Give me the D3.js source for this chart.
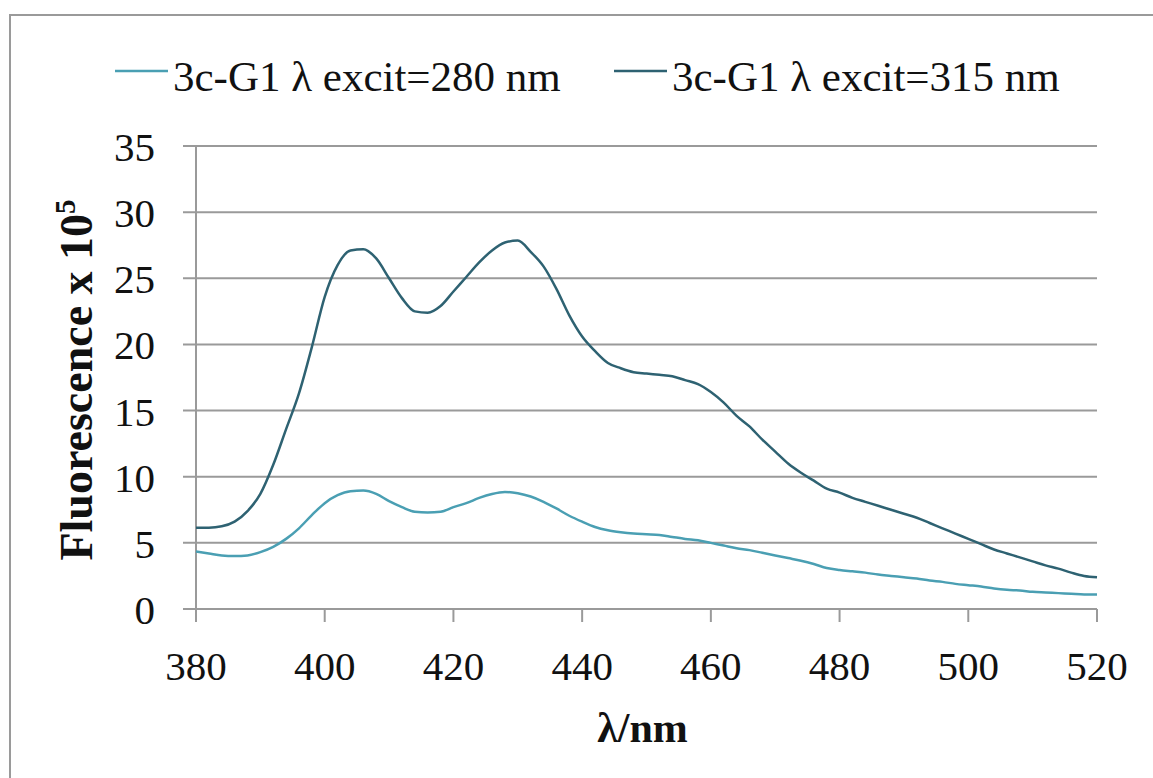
<!DOCTYPE html>
<html>
<head>
<meta charset="utf-8">
<script src="https://cdn.jsdelivr.net/npm/d3@7"></script>
<style>
  body { margin: 0; background: #fff; }
  text { font-family: "Liberation Serif", "DejaVu Serif", serif; fill: #111; }
</style>
</head>
<body>
<svg width="1153" height="778"></svg>
<script>
var svg = d3.select("svg"),
  width = +svg.attr("width"),
  height = +svg.attr("height");

// wavelengths (nm), 2 nm step
var wavelengths = d3.range(380, 521, 2);

// excitation 280 nm
var exc280 = [4.35, 4.2, 4.05, 4.0, 4.05, 4.3, 4.7, 5.3, 6.1, 7.1,
  8.0, 8.6, 8.9, 8.95, 8.7, 8.15, 7.7, 7.35, 7.3, 7.35,
  7.7, 8.0, 8.4, 8.7, 8.85, 8.75, 8.5, 8.1, 7.6, 7.05,
  6.6, 6.2, 5.95, 5.8, 5.7, 5.65, 5.6, 5.45, 5.3, 5.2,
  5.0, 4.8, 4.6, 4.45, 4.25, 4.05, 3.85, 3.65, 3.4, 3.1,
  2.95, 2.85, 2.75, 2.6, 2.5, 2.4, 2.3, 2.15, 2.05, 1.9,
  1.8, 1.7, 1.55, 1.45, 1.4, 1.3, 1.25, 1.2, 1.15, 1.1, 1.1];

// excitation 315 nm
var exc315 = [6.15, 6.15, 6.25, 6.6, 7.4, 8.7, 10.9, 13.6, 16.3, 19.8,
  23.6, 26.0, 27.1, 27.2, 26.5, 25.0, 23.5, 22.5, 22.4, 22.9,
  24.0, 25.1, 26.2, 27.1, 27.7, 27.85, 27.0, 25.9, 24.2, 22.2,
  20.6, 19.5, 18.6, 18.2, 17.9, 17.8, 17.7, 17.6, 17.3, 17.0,
  16.4, 15.6, 14.6, 13.8, 12.8, 11.9, 11.0, 10.3, 9.7, 9.1,
  8.8, 8.4, 8.1, 7.8, 7.5, 7.2, 6.9, 6.5, 6.1, 5.7,
  5.3, 4.9, 4.5, 4.2, 3.9, 3.6, 3.3, 3.05, 2.75, 2.5, 2.4];

var xTicks = [380, 400, 420, 440, 460, 480, 500, 520];
var yTicks = [0, 5, 10, 15, 20, 25, 30, 35];
var seriesNames = ["3c-G1 \u03bb excit=280 nm", "3c-G1 \u03bb excit=315 nm"];
var seriesColors = ["#4a9fb3", "#2e6272"];

var x = d3.scaleLinear().domain([380, 520]).range([196, 1097]);
var y = d3.scaleLinear().domain([0, 35]).range([609, 146]);
var grey = "#9a9a9a";

// outer frame (cut off at right / bottom)
svg.append("rect")
  .attr("x", 10).attr("y", 15)
  .attr("width", 1200).attr("height", 900)
  .attr("fill", "none").attr("stroke", grey).attr("stroke-width", 2);

// gridlines + y ticks
svg.append("g")
  .selectAll("line")
  .data(yTicks)
  .enter().append("line")
    .attr("x1", 183).attr("x2", x(520))
    .attr("y1", function(d) { return y(d); })
    .attr("y2", function(d) { return y(d); })
    .attr("stroke", grey).attr("stroke-width", 2);

// y axis line
svg.append("line")
  .attr("x1", x(380)).attr("x2", x(380))
  .attr("y1", y(35)).attr("y2", y(0))
  .attr("stroke", grey).attr("stroke-width", 2);

// x ticks
svg.append("g")
  .selectAll("line")
  .data(xTicks)
  .enter().append("line")
    .attr("x1", function(d) { return x(d); })
    .attr("x2", function(d) { return x(d); })
    .attr("y1", y(0)).attr("y2", y(0) + 13)
    .attr("stroke", grey).attr("stroke-width", 2);

// tick labels
svg.append("g")
  .selectAll("text")
  .data(yTicks)
  .enter().append("text")
    .attr("x", 155)
    .attr("y", function(d) { return y(d) + 15; })
    .attr("text-anchor", "end")
    .attr("font-size", 41)
    .text(function(d) { return d; });

svg.append("g")
  .selectAll("text")
  .data(xTicks)
  .enter().append("text")
    .attr("x", function(d) { return x(d); })
    .attr("y", 680)
    .attr("text-anchor", "middle")
    .attr("font-size", 41)
    .text(function(d) { return d; });

// axis titles
svg.append("text")
  .attr("x", (x(380) + x(520)) / 2 - 4)
  .attr("y", 742)
  .attr("text-anchor", "middle")
  .attr("font-size", 42)
  .attr("font-weight", "bold")
  .text("\u03bb/nm");

var ylab = svg.append("text")
  .attr("transform", "translate(92,380) rotate(-90)")
  .attr("text-anchor", "middle")
  .attr("font-size", 46)
  .attr("font-weight", "bold");
ylab.append("tspan").text("Fluorescence x 10");
ylab.append("tspan").attr("font-size", 29).attr("dy", -17).text("5");

// series lines
var line = d3.line()
  .x(function(d, i) { return x(wavelengths[i]); })
  .y(function(d) { return y(d); })
  .curve(d3.curveMonotoneX);

[exc280, exc315].forEach(function(s, k) {
  svg.append("path")
    .datum(s)
    .attr("d", line)
    .attr("fill", "none")
    .attr("stroke", seriesColors[k])
    .attr("stroke-width", 2.5);
});

// legend
var legendX = [115, 614];
seriesNames.forEach(function(name, k) {
  var g = svg.append("g").attr("transform", "translate(" + legendX[k] + ",71)");
  g.append("line")
    .attr("x1", 0).attr("x2", 53)
    .attr("stroke", seriesColors[k]).attr("stroke-width", 2.5);
  g.append("text")
    .attr("x", 58).attr("y", 20)
    .attr("font-size", 43)
    .text(name);
});
</script>
</body>
</html>
